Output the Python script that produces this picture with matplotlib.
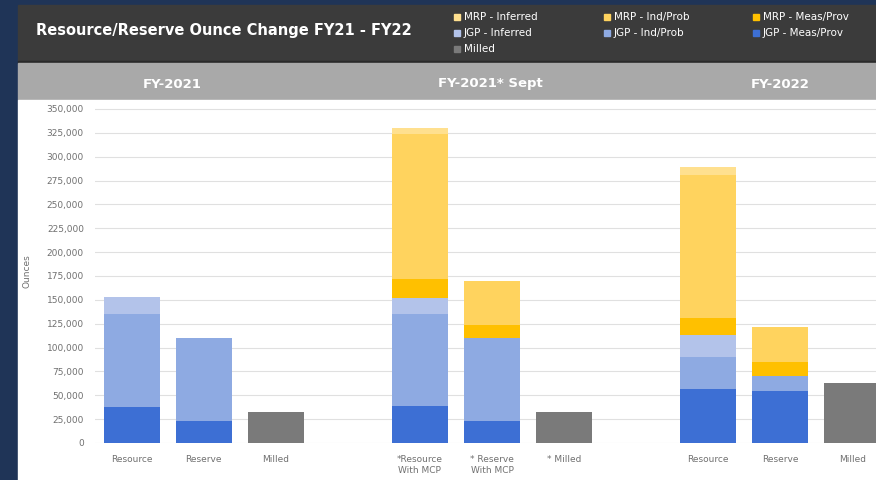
import matplotlib
matplotlib.use("Agg")
import matplotlib.pyplot as plt
from matplotlib.patches import Rectangle
from matplotlib.ticker import FuncFormatter
import numpy as np

# Kategorier (tomma luckor mellan grupperna)
labels = ["Resource", "Reserve", "Milled", "",
          "*Resource\nWith MCP", "* Reserve\nWith MCP", "* Milled", "",
          "Resource", "Reserve", "Milled"]
groups = ["FY-2021", "FY-2021* Sept", "FY-2022"]

# Staplade serier (uns), nerifrån och upp
jgp_meas = [38000, 23000, 0, 0, 38500, 23000, 0, 0, 57000, 54000, 0]
jgp_ind = [97000, 87000, 0, 0, 97000, 87000, 0, 0, 33000, 16000, 0]
jgp_inf = [18000, 0, 0, 0, 16500, 0, 0, 0, 23000, 0, 0]
mrp_meas = [0, 0, 0, 0, 20000, 14000, 0, 0, 17500, 14500, 0]
mrp_ind = [0, 0, 0, 0, 152000, 46000, 0, 0, 150000, 37500, 0]
mrp_inf = [0, 0, 0, 0, 6000, 0, 0, 0, 9000, 0, 0]
milled = [0, 0, 33000, 0, 0, 0, 33000, 0, 0, 0, 62500]

series = [
    ("JGP - Meas/Prov", jgp_meas, "#3d6fd4"),
    ("JGP - Ind/Prob", jgp_ind, "#8eaae2"),
    ("JGP - Inferred", jgp_inf, "#b3c3ea"),
    ("MRP - Meas/Prov", mrp_meas, "#ffc000"),
    ("MRP - Ind/Prob", mrp_ind, "#ffd35e"),
    ("MRP - Inferred", mrp_inf, "#ffe08f"),
    ("Milled", milled, "#7a7a7a"),
]

W, H = 876, 480
fig = plt.figure(figsize=(W / 100, H / 100), dpi=100)
fig.patch.set_facecolor("#1f3457")


def fx(px):
    return px / W


def fy(py):
    return 1 - py / H


def panel(x0, y0, x1, y1, color):
    # rektangel i pixelkoordinater (y nedåt), bakom axlarna
    fig.patches.append(Rectangle((fx(x0), fy(y1)), fx(x1) - fx(x0), fy(y0) - fy(y1),
                                 transform=fig.transFigure, color=color, zorder=-5))


# Paneler: mörkt huvud, grått band, vit plotyta
panel(18, 5, W, 61, "#3b3b3b")
panel(18, 61, W, 63, "#2a2a2a")
panel(18, 63, W, 100, "#a9a9a9")
panel(18, 100, W, H, "white")

fig.text(fx(36), fy(30), "Resource/Reserve Ounce Change FY21 - FY22",
         color="white", fontsize=10.5, fontweight="bold", va="center")

ax = fig.add_axes([fx(95), fy(443), 1 - fx(95), fy(100) - fy(443)])
ax.set_facecolor("none")
x = np.arange(len(labels))
bottom = np.zeros(len(labels))
for name, vals, color in series:
    vals = np.asarray(vals, dtype=float)
    ax.bar(x, vals, 0.78, bottom=bottom, color=color, zorder=3)
    bottom += vals

ax.set_xlim(-0.51, 10.33)
ax.set_ylim(0, 359375)
ax.set_yticks(np.arange(0, 350001, 25000))
ax.yaxis.set_major_formatter(FuncFormatter(lambda v, p: f"{int(v):,}"))
ax.grid(axis="y", color="#e0e0e0", lw=0.8, zorder=0)
ax.set_xticks(x)
ax.set_xticklabels(labels)
ax.tick_params(axis="both", length=0, labelsize=6.5, labelcolor="#707070")
ax.tick_params(axis="x", pad=9)
ax.tick_params(axis="y", pad=8)
for s in ax.spines.values():
    s.set_visible(False)
ax.set_ylabel("Ounces", fontsize=6.5, color="#707070", labelpad=11)

for px, g in zip([172, 490, 780], groups):
    fig.text(fx(px), fy(84), g, color="white", fontsize=9.5,
             fontweight="bold", ha="center", va="center")

# Förklaring i huvudet
order = ["MRP - Inferred", "MRP - Ind/Prob", "MRP - Meas/Prov",
         "JGP - Inferred", "JGP - Ind/Prob", "JGP - Meas/Prov", "Milled"]
colors = {n: c for n, _, c in series}
pos = [(458, 17), (608, 17), (757, 17), (458, 33), (608, 33), (757, 33), (458, 49)]
for n, (px, py) in zip(order, pos):
    fig.patches.append(Rectangle((fx(px - 4), fy(py + 3)), fx(6), fy(py - 3) - fy(py + 3),
                                 transform=fig.transFigure, color=colors[n]))
    fig.text(fx(px + 6), fy(py), n, color="white", fontsize=7.5, va="center")

fig.savefig("out.png", dpi=100, facecolor=fig.get_facecolor())
